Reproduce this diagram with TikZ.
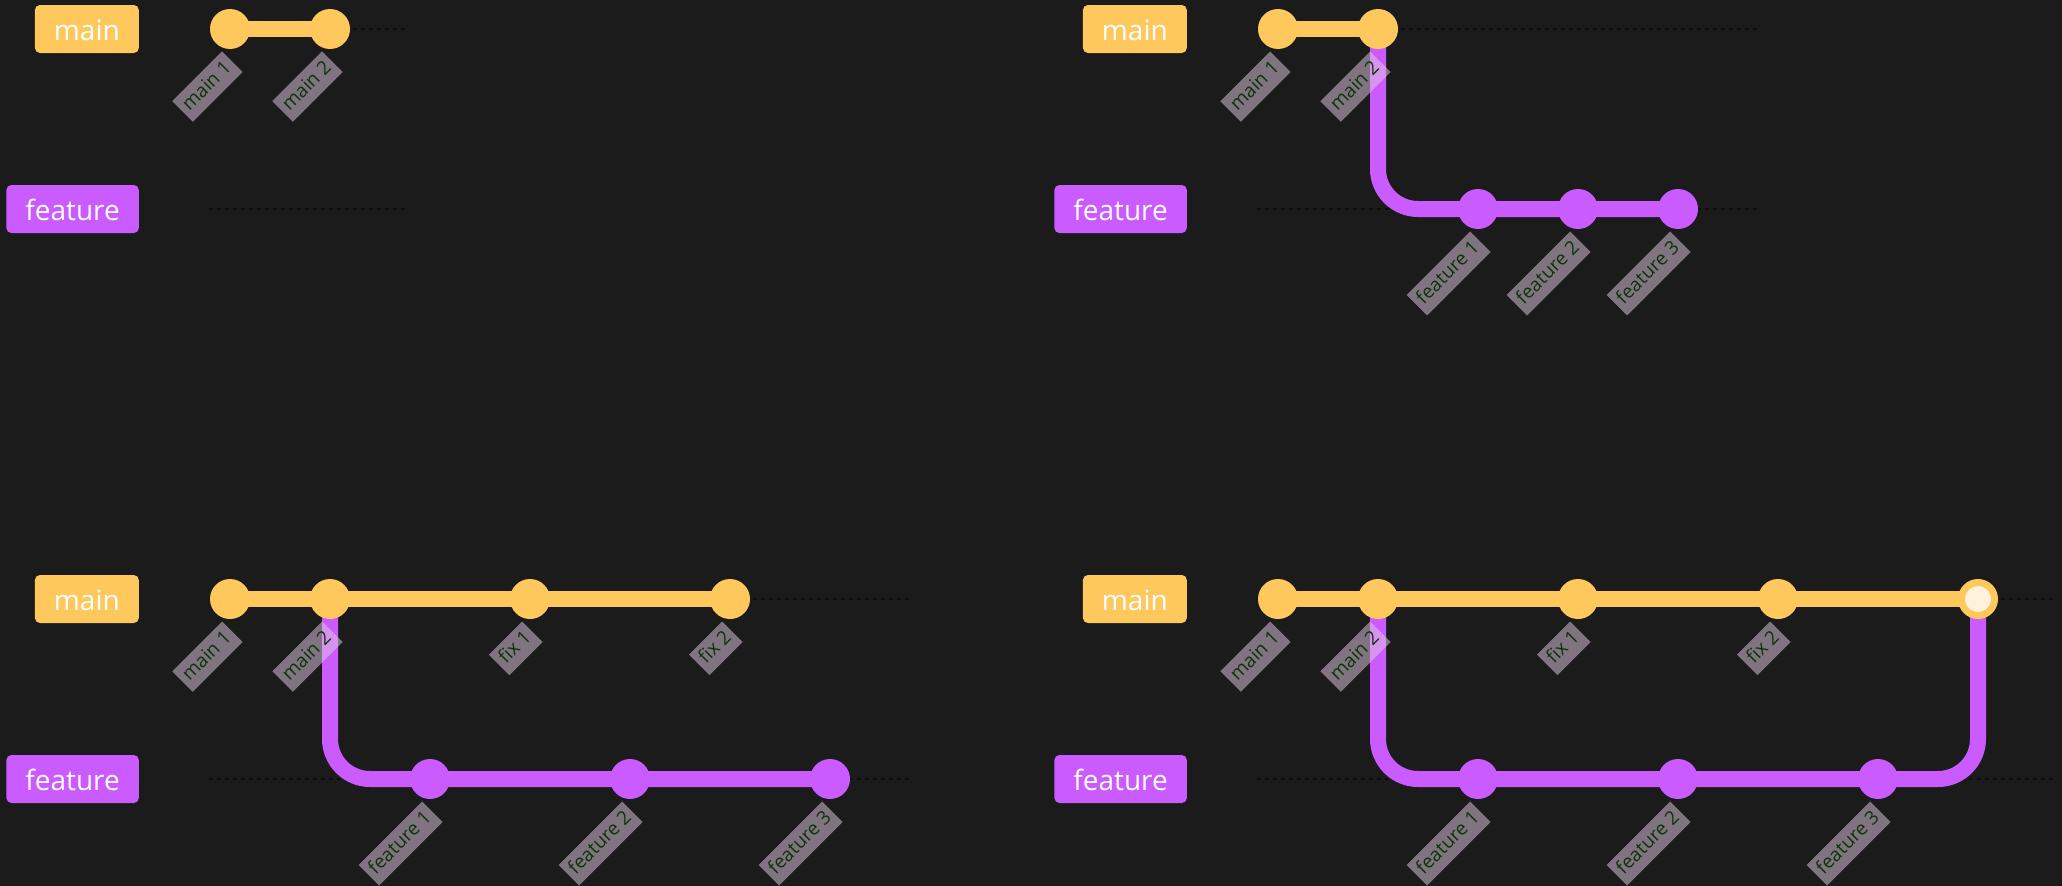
\documentclass[tikz,border=0pt]{standalone}
\usepackage{fontspec}
\setmainfont{Open Sans}
\usetikzlibrary{backgrounds}
\definecolor{bgc}{HTML}{1B1B1B}
\definecolor{mainc}{HTML}{FFC85C}
\definecolor{featc}{HTML}{C95BFF}
\definecolor{lblc}{HTML}{E3CDE3}
\definecolor{lbltxt}{HTML}{0F330C}
\definecolor{mergec}{HTML}{FFF2DC}
\definecolor{dotc}{HTML}{0E0E0E}
\tikzset{
	branchlbl/.style={rounded corners=5pt, text=white, inner xsep=19pt, inner ysep=0pt, minimum height=48pt, text height=24pt, text depth=2pt, anchor=east, font=\fontsize{28}{30}\selectfont},
	mainlbl/.style={branchlbl, fill=mainc},
	featlbl/.style={branchlbl, fill=featc},
	commit/.style={circle, inner sep=0pt, minimum size=40pt},
	maincommit/.style={commit, fill=mainc},
	featcommit/.style={commit, fill=featc},
	mergecommit/.style={circle, inner sep=0pt, minimum size=33pt, fill=mergec, draw=mainc, line width=7pt},
	commitlbl/.style={rotate=45, anchor=east, fill=lblc, fill opacity=0.5, text opacity=1, text=lbltxt, inner xsep=5pt, inner ysep=0pt, minimum height=29pt, text height=14pt, text depth=4pt, font=\fontsize{19}{22}\selectfont},
	branchline/.style={dotc, line width=2pt, dash pattern=on 4pt off 4pt},
	mainline/.style={mainc, line width=16pt},
	featline/.style={featc, line width=16pt, rounded corners=40pt},
}
\begin{document}
\begin{tikzpicture}[x=1pt, y=-1pt]
	\useasboundingbox (0,0) rectangle (2062,886);
	\begin{scope}[on background layer]
		\fill[bgc] (0,0) rectangle (2062,886);
	\end{scope}

	% main 1, main 2
	\begin{scope}
		\begin{scope}[on background layer]
			\draw[branchline] (209,29) -- (406,29);
			\draw[branchline] (209,209) -- (406,209);
		\end{scope}
		\node[mainlbl] (amain) at (139,29) {main};
		\node[featlbl] (afeat) at (139,209) {feature};
		\node[maincommit] (am1) at (230,29) {};
		\node[maincommit] (am2) at (330,29) {};
		\begin{scope}[on background layer]
			\draw[mainline] (am1.center) -- (am2.center);
		\end{scope}
		\node[commitlbl] (am1l) at ([shift={(2.5,32.5)}]am1) {main 1};
		\node[commitlbl] (am2l) at ([shift={(2.5,32.5)}]am2) {main 2};
	\end{scope}

	% feature branch
	\begin{scope}[shift={(1048,0)}]
		\begin{scope}[on background layer]
			\draw[branchline] (209,29) -- (710,29);
			\draw[branchline] (209,209) -- (710,209);
		\end{scope}
		\node[mainlbl] (bmain) at (139,29) {main};
		\node[featlbl] (bfeat) at (139,209) {feature};
		\node[maincommit] (bm1) at (230,29) {};
		\node[maincommit] (bm2) at (330,29) {};
		\node[featcommit] (bf1) at (430,209) {};
		\node[featcommit] (bf2) at (530,209) {};
		\node[featcommit] (bf3) at (630,209) {};
		\begin{scope}[on background layer]
			\draw[mainline] (bm1.center) -- (bm2.center);
			\draw[featline] (bm2.center) |- (bf1.center) -- (bf3.center);
		\end{scope}
		\node[commitlbl] (bm1l) at ([shift={(2.5,32.5)}]bm1) {main 1};
		\node[commitlbl] (bm2l) at ([shift={(2.5,32.5)}]bm2) {main 2};
		\node[commitlbl] (bf1l) at ([shift={(2.5,32.5)}]bf1) {feature 1};
		\node[commitlbl] (bf2l) at ([shift={(2.5,32.5)}]bf2) {feature 2};
		\node[commitlbl] (bf3l) at ([shift={(2.5,32.5)}]bf3) {feature 3};
	\end{scope}

	% fixes on main
	\begin{scope}[shift={(0,570)}]
		\begin{scope}[on background layer]
			\draw[branchline] (209,29) -- (910,29);
			\draw[branchline] (209,209) -- (910,209);
		\end{scope}
		\node[mainlbl] (cmain) at (139,29) {main};
		\node[featlbl] (cfeat) at (139,209) {feature};
		\node[maincommit] (cm1) at (230,29) {};
		\node[maincommit] (cm2) at (330,29) {};
		\node[featcommit] (cf1) at (430,209) {};
		\node[maincommit] (cx1) at (530,29) {};
		\node[featcommit] (cf2) at (630,209) {};
		\node[maincommit] (cx2) at (730,29) {};
		\node[featcommit] (cf3) at (830,209) {};
		\begin{scope}[on background layer]
			\draw[mainline] (cm1.center) -- (cx2.center);
			\draw[featline] (cm2.center) |- (cf1.center) -- (cf3.center);
		\end{scope}
		\node[commitlbl] (cm1l) at ([shift={(2.5,32.5)}]cm1) {main 1};
		\node[commitlbl] (cm2l) at ([shift={(2.5,32.5)}]cm2) {main 2};
		\node[commitlbl] (cf1l) at ([shift={(2.5,32.5)}]cf1) {feature 1};
		\node[commitlbl] (cx1l) at ([shift={(2.5,32.5)}]cx1) {fix 1};
		\node[commitlbl] (cf2l) at ([shift={(2.5,32.5)}]cf2) {feature 2};
		\node[commitlbl] (cx2l) at ([shift={(2.5,32.5)}]cx2) {fix 2};
		\node[commitlbl] (cf3l) at ([shift={(2.5,32.5)}]cf3) {feature 3};
	\end{scope}

	% merge
	\begin{scope}[shift={(1048,570)}]
		\begin{scope}[on background layer]
			\draw[branchline] (209,29) -- (1005,29);
			\draw[branchline] (209,209) -- (1005,209);
		\end{scope}
		\node[mainlbl] (dmain) at (139,29) {main};
		\node[featlbl] (dfeat) at (139,209) {feature};
		\node[maincommit] (dm1) at (230,29) {};
		\node[maincommit] (dm2) at (330,29) {};
		\node[featcommit] (df1) at (430,209) {};
		\node[maincommit] (dx1) at (530,29) {};
		\node[featcommit] (df2) at (630,209) {};
		\node[maincommit] (dx2) at (730,29) {};
		\node[featcommit] (df3) at (830,209) {};
		\node[mergecommit] (dmg) at (930,29) {};
		\begin{scope}[on background layer]
			\draw[mainline] (dm1.center) -- (dmg.center);
			\draw[featline] (dm2.center) |- (df1.center) -- (df3.center) -| (dmg.center);
		\end{scope}
		\node[commitlbl] (dm1l) at ([shift={(2.5,32.5)}]dm1) {main 1};
		\node[commitlbl] (dm2l) at ([shift={(2.5,32.5)}]dm2) {main 2};
		\node[commitlbl] (df1l) at ([shift={(2.5,32.5)}]df1) {feature 1};
		\node[commitlbl] (dx1l) at ([shift={(2.5,32.5)}]dx1) {fix 1};
		\node[commitlbl] (df2l) at ([shift={(2.5,32.5)}]df2) {feature 2};
		\node[commitlbl] (dx2l) at ([shift={(2.5,32.5)}]dx2) {fix 2};
		\node[commitlbl] (df3l) at ([shift={(2.5,32.5)}]df3) {feature 3};
	\end{scope}
\end{tikzpicture}
\end{document}
